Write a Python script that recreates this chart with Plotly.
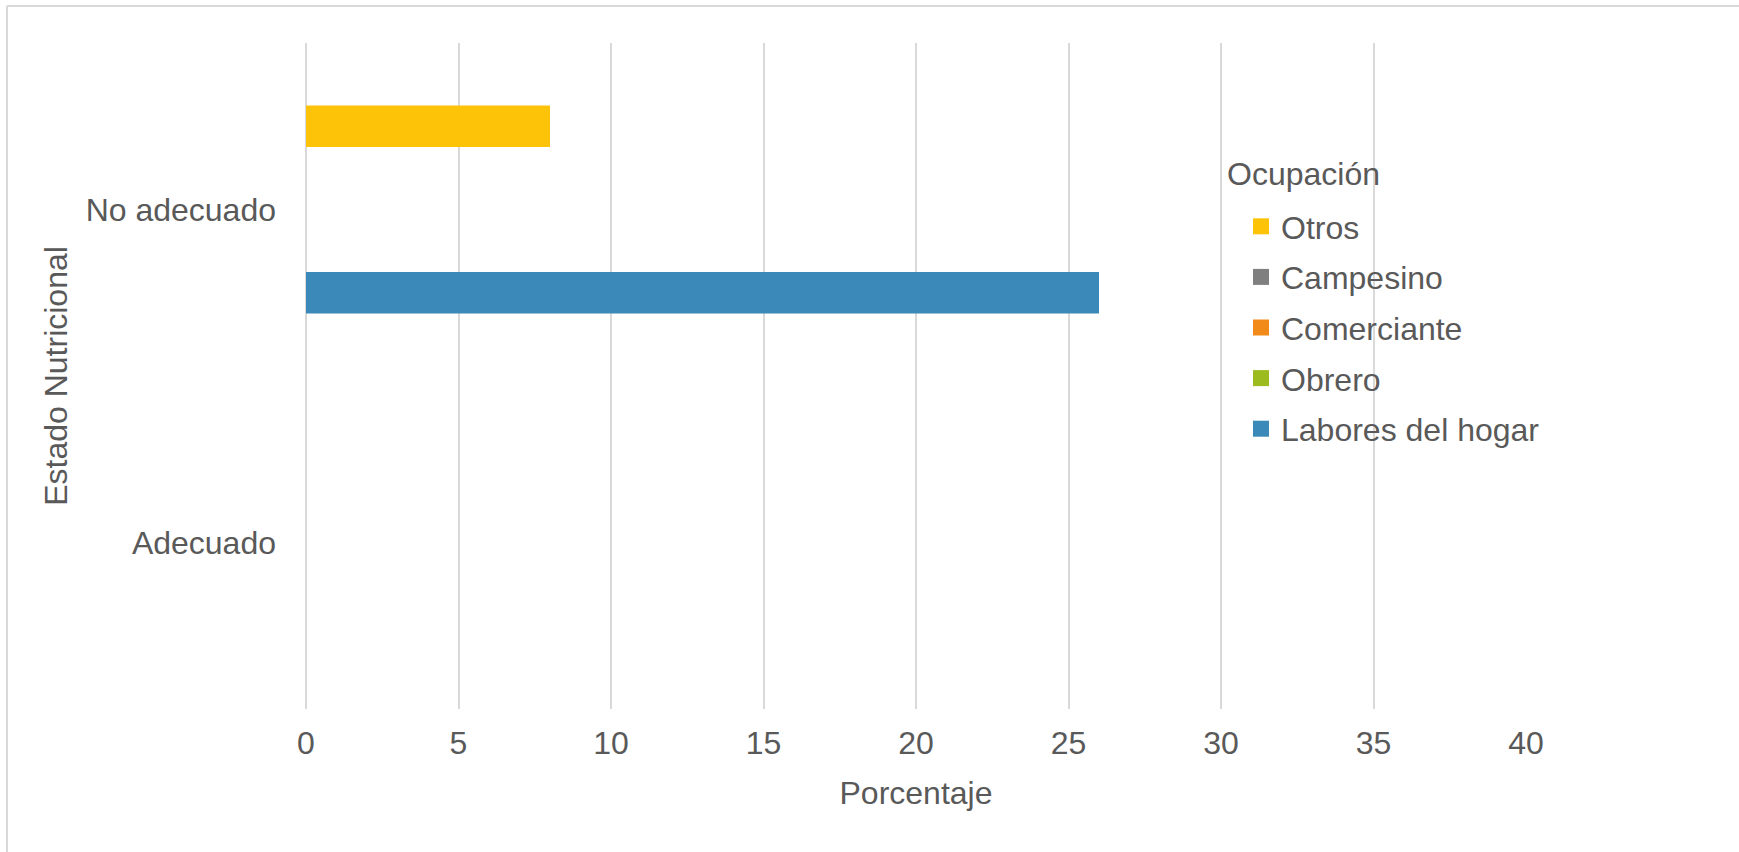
import plotly.graph_objects as go

# Data
estados = ["Adecuado", "No adecuado"]
ocupaciones = ["Labores del hogar", "Obrero", "Comerciante", "Campesino", "Otros"]
labores_del_hogar = [0, 26]
obrero = [0, 0]
comerciante = [0, 0]
campesino = [0, 0]
otros = [0, 8]
x_ticks = [0, 5, 10, 15, 20, 25, 30, 35, 40]

series = [labores_del_hogar, obrero, comerciante, campesino, otros]
colores = ["#3A89B8", "#9BBB1E", "#F28A1A", "#7F7F7F", "#FCC308"]

W, H = 1739, 852
ML, MR, MT, MB = 306, 213, 43, 143
FONT = "Liberation Sans, Arial, sans-serif"
FS = 32
TXT = "#595959"
GRID = "#D9D9D9"

fig = go.Figure()
for i, (nombre, vals, col) in enumerate(zip(ocupaciones, series, colores)):
    fig.add_trace(go.Bar(
        name=nombre,
        y=estados,
        x=vals,
        orientation="h",
        marker=dict(color=col, line=dict(width=0)),
        legendgroup=nombre,
        showlegend=False,
    ))
    # legend entry with a larger square key
    fig.add_trace(go.Scatter(
        name=nombre,
        x=[None], y=[None],
        mode="markers",
        marker=dict(symbol="square", size=17, color=col),
        legendgroup=nombre,
        legendrank=len(ocupaciones) - i,
        showlegend=True,
    ))

pw = W - ML - MR
ph = H - MT - MB


def px_x(p):
    return (p - ML) / pw


def px_y(p):
    return 1 - (p - MT) / ph


# outer chart frame (left and top edges)
frame = dict(type="line", xref="paper", yref="paper", layer="below",
             line=dict(color=GRID, width=2))
shapes = [
    dict(frame, x0=px_x(7), x1=px_x(W + 5), y0=px_y(6), y1=px_y(6)),
    dict(frame, x0=px_x(7), x1=px_x(7), y0=px_y(6), y1=px_y(H + 5)),
]

fig.update_layout(
    width=W, height=H,
    margin=dict(l=ML, r=MR, t=MT, b=MB),
    paper_bgcolor="white", plot_bgcolor="white",
    barmode="group", bargap=0.375, bargroupgap=0,
    font=dict(family=FONT, size=FS, color=TXT),
    shapes=shapes,
    annotations=[dict(
        text="Ocupación", xref="paper", yref="paper",
        x=px_x(1225), y=px_y(174), xanchor="left", yanchor="middle",
        showarrow=False, font=dict(size=FS, color=TXT),
    )],
    xaxis=dict(
        range=[0, 40], tickvals=x_ticks, ticks="",
        showgrid=True, gridcolor=GRID, gridwidth=1.5,
        zeroline=True, zerolinecolor=GRID, zerolinewidth=1.5,
        showline=False, fixedrange=True,
        tickfont=dict(size=FS, color=TXT),
        ticklabelstandoff=12,
        title=dict(text="Porcentaje", font=dict(size=FS, color=TXT), standoff=21),
    ),
    yaxis=dict(
        type="category", categoryorder="array", categoryarray=estados,
        range=[-0.5, 1.5], ticks="", showgrid=False, zeroline=False,
        showline=False, fixedrange=True,
        tickfont=dict(size=FS, color=TXT),
        ticklabelstandoff=29,
        title=dict(text="Estado Nutricional", font=dict(size=FS, color=TXT), standoff=8),
    ),
    legend=dict(
        font=dict(size=FS, color=TXT),
        traceorder="grouped",
        tracegroupgap=6,
        itemsizing="trace",
        bgcolor="rgba(0,0,0,0)",
        x=px_x(1241), xanchor="left",
        y=px_y(199), yanchor="top",
    ),
)

fig.write_html("out.html")
